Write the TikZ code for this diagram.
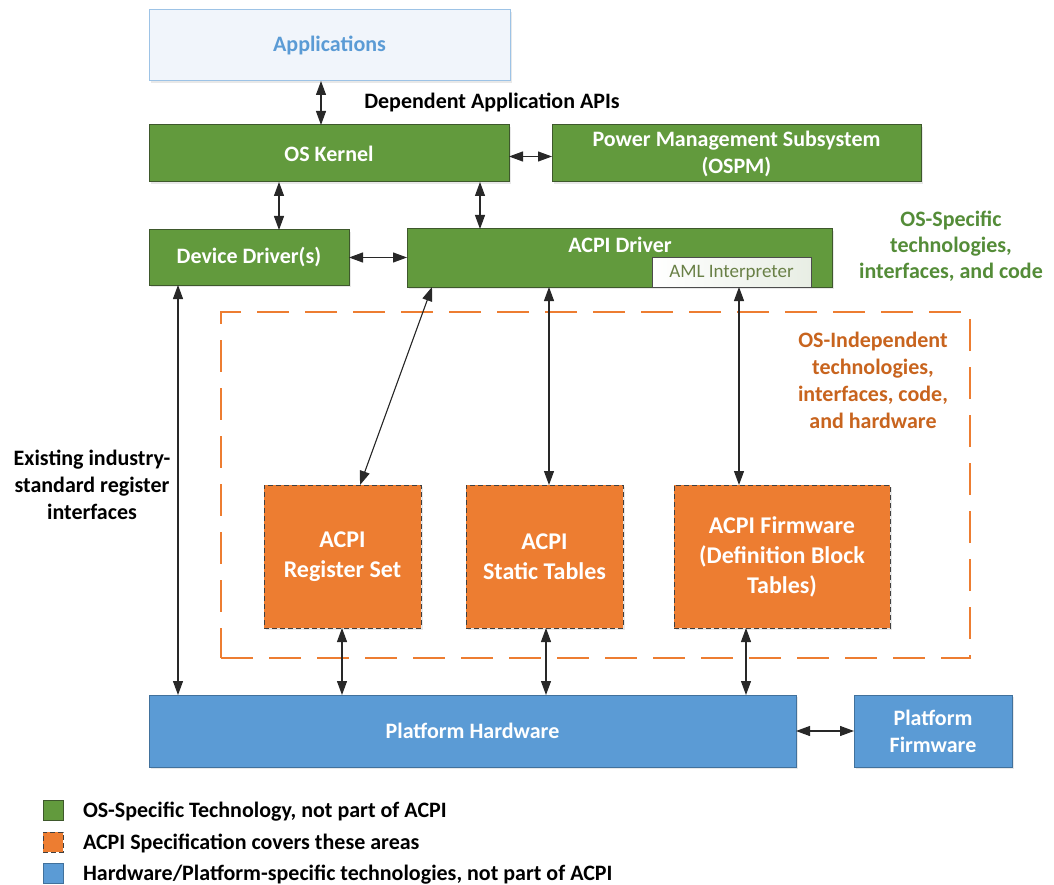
\documentclass[tikz,border=0pt]{standalone}
\usepackage{fontspec}
\setmainfont{Carlito}
\usetikzlibrary{arrows.meta,shadows}
\definecolor{grnF}{RGB}{98,154,61}
\definecolor{grnD}{RGB}{62,88,44}
\definecolor{bluF}{RGB}{91,155,213}
\definecolor{bluD}{RGB}{65,113,156}
\definecolor{orgF}{RGB}{237,125,49}
\definecolor{orgT}{RGB}{200,100,30}
\definecolor{grnT}{RGB}{84,140,56}
\definecolor{appF}{RGB}{241,245,251}
\definecolor{appD}{RGB}{157,195,230}
\definecolor{appT}{RGB}{91,155,213}
\definecolor{amlT}{RGB}{105,128,70}
\definecolor{arrC}{RGB}{40,40,40}
\begin{document}
\begin{tikzpicture}[x=1pt,y=-1pt,
  every node/.style={inner sep=0pt, outer sep=0pt},
  bigf/.style={font=\bfseries\fontsize{22}{27}\selectfont},
  box/.style={draw, line width=1pt, anchor=north west, align=center, bigf, text=white,
    drop shadow={opacity=0.18, shadow xshift=2pt, shadow yshift=-2pt}},
  gbox/.style={box, fill=grnF, draw=grnD},
  bbox/.style={box, fill=bluF, draw=bluD},
  obox/.style={box, fill=orgF, draw=black!75, dash pattern=on 5pt off 3pt,
    font=\bfseries\fontsize{24}{30}\selectfont},
  arr/.style={{Triangle[length=14pt,width=10pt]}-{Triangle[length=14pt,width=10pt]}, line width=1.1pt, draw=arrC},
  lbl/.style={bigf, align=center},
  legsq/.style={draw, line width=1pt, minimum size=20pt}
]
\useasboundingbox (0,0) rectangle (1054,885);

% region
\node[draw=orgF, line width=1.6pt, dash pattern=on 32pt off 16pt, anchor=north west,
  minimum width=749, minimum height=346] (region) at (221,312) {};

% top
\node[box, fill=appF, draw=appD, text=appT, minimum width=361, minimum height=71] (app) at (149,10) {Applications};
\node[lbl] (dep) at (492,102) {Dependent Application APIs};
\node[gbox, minimum width=360, minimum height=57] (osk) at (149,125) {OS Kernel};
\node[gbox, minimum width=369, minimum height=57] (pms) at (552,125) {Power Management Subsystem\\(OSPM)};

\node[gbox, minimum width=200, minimum height=55] (dd) at (149,230) {Device Driver(s)};
\node[gbox, minimum width=425, minimum height=58] (acpi) at (407,229) {};
\node[bigf, text=white] (acpit) at (620,245) {ACPI Driver};
\node[draw=black!70, line width=1pt, left color=white, right color={rgb,255:red,232;green,238;blue,228},
  anchor=north west, minimum width=159, minimum height=29, font=\fontsize{19}{22}\selectfont, text=amlT]
  (aml) at (652,258) {AML Interpreter};

\node[lbl, text=grnT, font=\bfseries\fontsize{22}{26}\selectfont] (osspec) at (951,246) {OS-Specific\\technologies,\\interfaces, and code};
\node[lbl, text=orgT] (osind) at (873,380) {OS-Independent\\technologies,\\interfaces, code,\\and hardware};
\node[lbl] (exist) at (92,485) {Existing industry-\\standard register\\interfaces};

% orange
\node[obox, minimum width=157, minimum height=143] (reg) at (264,485) {ACPI\\Register Set};
\node[obox, minimum width=157, minimum height=143] (stat) at (466,485) {ACPI\\Static Tables};
\node[obox, minimum width=216, minimum height=143] (fw) at (674,485) {ACPI Firmware\\(Definition Block\\Tables)};

% blue
\node[bbox, minimum width=647, minimum height=72] (ph) at (149,695) {Platform Hardware};
\node[bbox, minimum width=158, minimum height=72] (pf) at (854,695) {Platform\\Firmware};

% arrows
\draw[arr] ([xshift=172pt]app.south west) -- ([xshift=172pt]osk.north west);
\draw[arr] ([yshift=-3pt]osk.east) -- ([yshift=-3pt]pms.west);
\draw[arr] ([xshift=130pt]osk.south west) -- ([xshift=130pt]dd.north west);
\draw[arr] ([xshift=331pt]osk.south west) -- ([xshift=73pt]acpi.north west);
\draw[arr] (dd.east) -- (dd.east -| acpi.west);
\draw[arr] ([xshift=29pt]dd.south west) -- ([xshift=29pt]ph.north west);
\draw[arr] ([xshift=25pt]acpi.south west) -- ([xshift=96pt]reg.north west);
\draw[arr] ([xshift=142pt]acpi.south west) -- ([xshift=83pt]stat.north west);
\draw[arr] ([xshift=87pt]aml.south west) -- ([xshift=65pt]fw.north west);
\draw[arr] ([xshift=78pt]reg.south west) -- ([xshift=193pt]ph.north west);
\draw[arr] ([xshift=80pt]stat.south west) -- ([xshift=397pt]ph.north west);
\draw[arr] ([xshift=72pt]fw.south west) -- ([xshift=597pt]ph.north west);
\draw[arr] (ph.east) -- (pf.west);

% legend
\node[legsq, fill=grnF, draw=grnD] (lg1) at (53,810) {};
\node[legsq, fill=orgF, draw=black!75, dash pattern=on 5pt off 3pt] (lg2) at (53,842) {};
\node[legsq, fill=bluF, draw=bluD] (lg3) at (53,873) {};
\node[bigf, anchor=base west] (lt1) at (83,817) {OS-Specific Technology, not part of ACPI};
\node[bigf, anchor=base west] (lt2) at (83,849) {ACPI Specification covers these areas};
\node[bigf, anchor=base west] (lt3) at (83,880) {Hardware/Platform-specific technologies, not part of ACPI};
\end{tikzpicture}
\end{document}
